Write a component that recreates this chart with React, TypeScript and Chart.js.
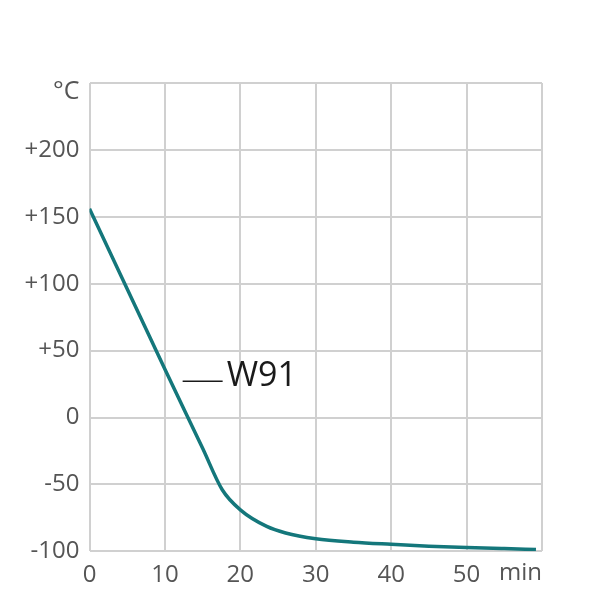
import React, { useEffect, useRef } from "react";
import { Chart, registerables } from "chart.js";

Chart.register(...registerables);

const timeMin = [0, 5, 10, 15, 17.6, 20, 23.5, 26, 30, 35, 40, 45, 50, 55, 59.2];
const tempW91 = [156, 96, 36, -23, -54, -69, -81.4, -86.3, -90.6, -93.2, -94.8, -96.2, -97.2, -98, -98.6];
const seriesName = "W91";
const yUnit = "°C";
const xUnit = "min";

const FONT = "'Open Sans', 'Noto Sans', sans-serif";

export default function App() {
  const ref = useRef<HTMLCanvasElement | null>(null);
  useEffect(() => {
    if (!ref.current) return;
    const labelPlugin = {
      id: "labels",
      afterDraw(chart: any) {
        const ctx = chart.ctx;
        const xs = chart.scales.x;
        const ys = chart.scales.y;
        ctx.save();
        ctx.fillStyle = "#555555";
        ctx.font = `25px ${FONT}`;
        ctx.textBaseline = "middle";
        ctx.textAlign = "right";
        ctx.fillText(yUnit, xs.left - 10, ys.top + 9);
        ctx.font = `24px ${FONT}`;
        ctx.fillText(xUnit, xs.right, 573);
        // series label
        const lx = xs.getPixelForValue(12.35);
        const ly = ys.getPixelForValue(27);
        ctx.strokeStyle = "#1a1a1a";
        ctx.lineWidth = 1.5;
        ctx.beginPath();
        ctx.moveTo(lx, ly);
        ctx.lineTo(lx + 40, ly);
        ctx.stroke();
        ctx.fillStyle = "#1a1a1a";
        ctx.font = `34px ${FONT}`;
        ctx.textAlign = "left";
        ctx.textBaseline = "alphabetic";
        ctx.fillText(seriesName, lx + 44, ly + 5);
        ctx.restore();
      },
    };
    const chart = new Chart(ref.current, {
      type: "line",
      data: {
        datasets: [
          {
            label: seriesName,
            data: timeMin.map((t, i) => ({ x: t, y: tempW91[i] })),
            borderColor: "#14777b",
            borderWidth: 3.5,
            pointRadius: 0,
            cubicInterpolationMode: "monotone",
            fill: false,
          },
        ],
      },
      options: {
        animation: false,
        responsive: false,
        maintainAspectRatio: false,
        layout: { padding: { left: 0, right: 58, top: 83, bottom: 0 } },
        plugins: { legend: { display: false }, tooltip: { enabled: false } },
        scales: {
          x: {
            type: "linear",
            min: 0,
            max: 60,
            border: { display: false },
            grid: { color: "#d0d0d0", lineWidth: 2, drawTicks: false },
            ticks: {
              stepSize: 10,
              padding: 9,
              color: "#555555",
              font: { family: FONT, size: 24 },
              maxRotation: 0,
              callback: (v: any) => (v === 60 ? "" : String(v)),
            },
            afterFit: (s: any) => {
              s.height = 48.7;
            },
          },
          y: {
            type: "linear",
            min: -100,
            max: 250,
            border: { display: false },
            grid: { color: "#d0d0d0", lineWidth: 2, drawTicks: false },
            ticks: {
              stepSize: 50,
              padding: 10,
              color: "#555555",
              font: { family: FONT, size: 24 },
              callback: (v: any) => (v === 250 ? "" : v > 0 ? "+" + v : String(v)),
            },
            afterFit: (s: any) => {
              s.width = 89.5;
            },
          },
        },
      },
      plugins: [labelPlugin],
    } as any);
    return () => chart.destroy();
  }, []);
  return (
    <div style={{ position: "absolute", left: 0, top: 0, width: 600, height: 600, background: "#fff" }}>
      <canvas ref={ref} width={600} height={600} style={{ width: 600, height: 600 }} />
    </div>
  );
}
